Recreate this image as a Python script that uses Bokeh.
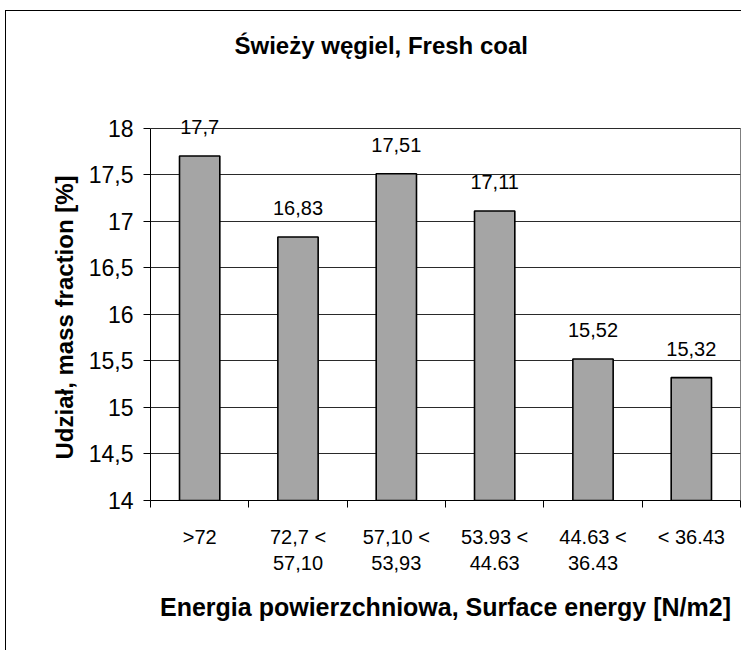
from bokeh.plotting import figure
from bokeh.models import Range1d, FixedTicker, ColumnDataSource, LabelSet, Title
from bokeh.embed import file_html
from bokeh.resources import INLINE
from bokeh.core.properties import value

# ---- data ----
categories = [">72", "72,7 <\n57,10", "57,10 <\n53,93", "53.93 <\n44.63", "44.63 <\n36.43", "< 36.43"]
values = [17.7, 16.83, 17.51, 17.11, 15.52, 15.32]
value_labels = ["17,7", "16,83", "17,51", "17,11", "15,52", "15,32"]
y_ticks = [14, 14.5, 15, 15.5, 16, 16.5, 17, 17.5, 18]
y_tick_labels = ["14", "14,5", "15", "15,5", "16", "16,5", "17", "17,5", "18"]
y_min, y_max = 14, 18
y_headroom = 0.2  # blank room above the axis top so the value labels are not clipped

title_text = "Świeży węgiel, Fresh coal"
x_title = "Energia powierzchniowa, Surface energy [N/m2]"
y_title = "Udział, mass fraction [%]"

FONT = "Liberation Sans"

n = len(categories)
xs = [i + 0.5 for i in range(n)]
src = ColumnDataSource(dict(x=xs, top=values, label=value_labels))

p = figure(width=736, height=640, output_backend="svg", toolbar_location=None,
           x_range=Range1d(0, n), y_range=Range1d(y_min, y_max + y_headroom),
           min_border_left=144, min_border_right=2, min_border_top=98, min_border_bottom=151)
p.styles = {"border-left": "1px solid black", "border-top": "1px solid black",
            "margin-left": "5px", "margin-top": "10px"}

# spacer + title in the "above" panel (first added is closest to the frame)
p.add_layout(Title(text=" ", text_font_size="10px", standoff=33), "above")
p.add_layout(Title(text=title_text, align="left", offset=84, text_font=FONT, text_font_size="24px",
                   text_font_style="bold", text_color="black", standoff=10), "above")

p.vbar(x="x", top="top", bottom=y_min, width=0.41, source=src,
       fill_color="#a5a5a5", line_color="black", line_width=1.6)

labels = LabelSet(x="x", y="top", text="label", source=src, y_offset=22,
                  text_align="center", text_baseline="alphabetic",
                  text_font=value(FONT), text_font_size=value("20px"), text_color="black")
p.add_layout(labels)

# plot-area box: top line at y_max via grid, right edge as a segment
p.outline_line_color = None
p.segment(x0=[n], y0=[y_min], x1=[n], y1=[y_max], line_color="black", line_width=1)
p.background_fill_color = "white"
p.border_fill_color = "white"

# grid
p.xgrid.visible = False
p.ygrid.ticker = FixedTicker(ticks=y_ticks)
p.ygrid.grid_line_color = "#2a2a2a"
p.ygrid.grid_line_width = 1

# y axis
ya = p.yaxis[0]
ya.bounds = (y_min, y_max)
ya.ticker = FixedTicker(ticks=y_ticks)
ya.major_label_overrides = {t: l for t, l in zip(y_ticks, y_tick_labels)}
ya.major_tick_in = 0
ya.major_tick_out = 7
ya.minor_tick_out = 0
ya.minor_tick_in = 0
ya.axis_line_color = "black"
ya.major_tick_line_color = "black"
ya.major_label_text_font = FONT
ya.major_label_text_font_size = "23px"
ya.major_label_text_color = "black"
ya.major_label_standoff = 10

# y-axis title as a rotated Title in the left panel (outside the axis)
p.add_layout(Title(text=y_title, align="left", offset=41, text_font=FONT, text_font_size="24px",
                   text_font_style="bold", text_color="black", standoff=16), "left")

# x axis
xa = p.xaxis[0]
xa.ticker = FixedTicker(ticks=xs, minor_ticks=list(range(n + 1)))
xa.major_label_overrides = {x: c for x, c in zip(xs, categories)}
xa.major_tick_in = 0
xa.major_tick_out = 0
xa.minor_tick_in = 0
xa.minor_tick_out = 7
xa.minor_tick_line_color = "black"
xa.axis_line_color = "black"
xa.major_label_text_font = FONT
xa.major_label_text_font_size = "20px"
xa.major_label_text_color = "black"
xa.major_label_standoff = 18
xa.axis_label = x_title
xa.axis_label_text_font = FONT
xa.axis_label_text_font_size = "25px"
xa.axis_label_text_font_style = "bold"
xa.axis_label_text_color = "black"
xa.axis_label_standoff = 16

open("out.html", "w").write(file_html(p, INLINE))
